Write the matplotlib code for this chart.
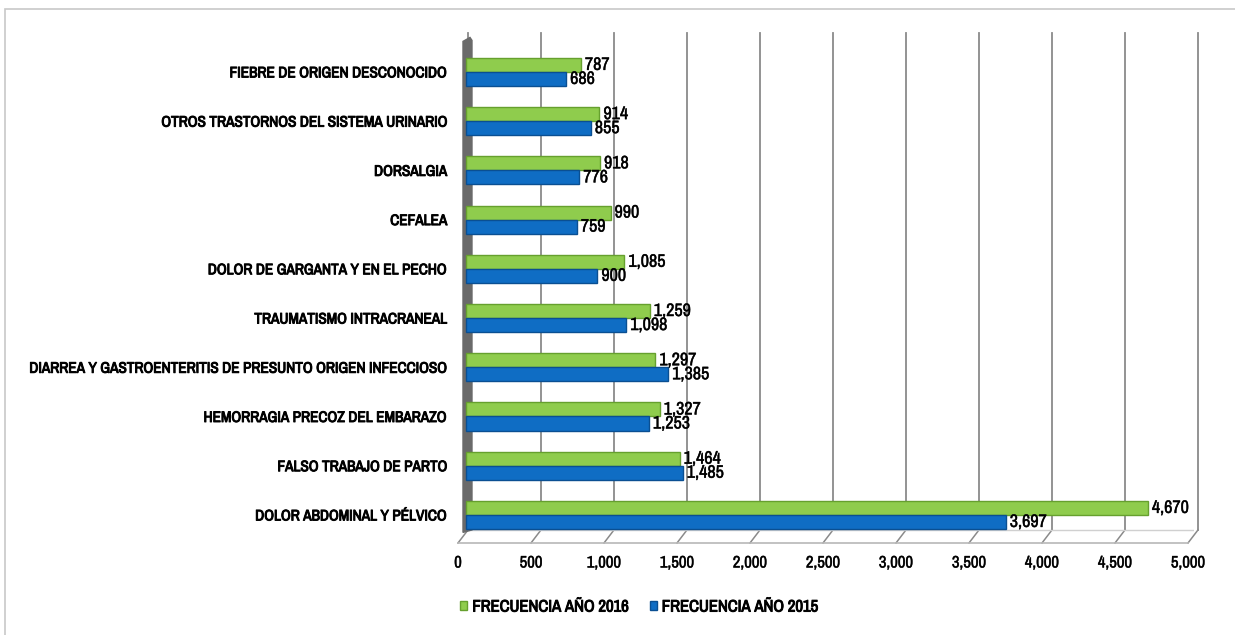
import numpy as np
import matplotlib
matplotlib.use('Agg')
import matplotlib.pyplot as plt
import matplotlib.patheffects as pe
from matplotlib import font_manager
from matplotlib.patches import Rectangle, Polygon
from matplotlib.transforms import ScaledTranslation
from matplotlib.ticker import FuncFormatter

#-------------- DATA (bottom to top)

categories = ["DOLOR ABDOMINAL Y PÉLVICO",
              "FALSO TRABAJO DE PARTO",
              "HEMORRAGIA PRECOZ DEL EMBARAZO",
              "DIARREA Y GASTROENTERITIS DE PRESUNTO ORIGEN INFECCIOSO",
              "TRAUMATISMO INTRACRANEAL",
              "DOLOR DE GARGANTA Y EN EL PECHO",
              "CEFALEA",
              "DORSALGIA",
              "OTROS TRASTORNOS DEL SISTEMA URINARIO",
              "FIEBRE DE ORIGEN DESCONOCIDO"]
freq_2016 = [4670, 1464, 1327, 1297, 1259, 1085, 990, 918, 914, 787]
freq_2015 = [3697, 1485, 1253, 1385, 1098, 900, 759, 776, 855, 686]
series_names = ["FRECUENCIA AÑO 2016", "FRECUENCIA AÑO 2015"]
xticks = np.arange(0, 5001, 500)

#-------------- FONT: look for a narrow face, else fall back

names = {f.name for f in font_manager.fontManager.ttflist}
narrow = [n for n in names if 'Narrow' in n or 'Condensed' in n]
if 'Liberation Sans Narrow' in names:
    main = 'Liberation Sans Narrow'
elif narrow:
    main = sorted(narrow)[0]
else:
    main = 'Liberation Sans'
fam = [main, 'DejaVu Sans']
plt.rcParams['font.family'] = fam
condensed = main != 'Liberation Sans'
lab_size = 11 if condensed else 8.4
val_size = 13 if condensed else 10
tick_size = 12 if condensed else 9.5
leg_size = 12 if condensed else 9
bold = [pe.withStroke(linewidth=0.7, foreground='black')]
semibold = [pe.withStroke(linewidth=0.35, foreground='#222222')]

green, green_edge = '#8FCC4D', '#66A02E'
blue, blue_edge = '#0F6DC4', '#0A4F92'
grid_c = '#8A8A8A'

#-------------- FIGURE

fig = plt.figure(figsize=(12.35, 6.35), dpi=100)
fig.patches.append(Rectangle((0.004, -0.02), 1.0, 1.006, transform=fig.transFigure,
                             fill=False, edgecolor='#C8C8C8', linewidth=1.2))
ax = fig.add_axes([0.3757, 0.1449, 0.5911, 0.8031])
ax.set_xlim(0, 5000)
ax.set_ylim(-0.57, 9.79)

k = 5000 / 730.0          # data units per pixel along x
y_bend = -0.305           # where the back wall meets the floor
y_bot = -0.57
back, front = 4 * k, -6 * k

# 3D-looking grid: vertical on the back wall, slanting over the floor
for v in xticks:
    ax.plot([v + back, v + back], [9.79, y_bend], color=grid_c, lw=1.3, zorder=1, clip_on=False)
    ax.plot([v + back, v + front], [y_bend, y_bot], color=grid_c, lw=1.1, zorder=1, clip_on=False)
ax.plot([back, 5000 + back], [y_bend, y_bend], color='#D0D0D0', lw=1.0, zorder=1)
ax.plot([front, 5000 + front], [y_bot, y_bot], color='#B8B8B8', lw=1.2, zorder=1, clip_on=False)

# gray side wall
ax.add_patch(Polygon([(-1 * k, y_bend - 0.05), (-1 * k, 9.62), (6 * k, 9.70), (8 * k, 9.64),
                      (8 * k, y_bend)], closed=True, color='#6A6A6A', zorder=2, clip_on=False))

y = np.arange(len(categories))
h = 0.285
ax.barh(y + h / 2, freq_2016, height=h, left=2 * k, color=green, edgecolor=green_edge,
        linewidth=1.0, label=series_names[0], zorder=3)
ax.barh(y - h / 2, freq_2015, height=h, left=2 * k, color=blue, edgecolor=blue_edge,
        linewidth=1.0, label=series_names[1], zorder=3)

for yi, v16, v15 in zip(y, freq_2016, freq_2015):
    ax.text(v16 + 6 * k, yi + h / 2, f"{v16:,}", fontsize=val_size, va='center', ha='left',
            zorder=5, path_effects=semibold)
    ax.text(v15 + 6 * k, yi - h / 2, f"{v15:,}", fontsize=val_size, va='center', ha='left',
            zorder=5, path_effects=semibold)

ax.set_xticks(xticks)
ax.xaxis.set_major_formatter(FuncFormatter(lambda v, p: f"{int(v):,}"))
ax.set_yticks(y)
ax.set_yticklabels(categories, fontsize=lab_size)
for lab in ax.get_yticklabels():
    lab.set_path_effects(bold)
ax.tick_params(axis='y', length=0, pad=12)
ax.tick_params(axis='x', length=0, pad=9, labelsize=tick_size)
shift = ScaledTranslation(-0.06, 0, fig.dpi_scale_trans)
for lab in ax.get_xticklabels():
    lab.set_transform(lab.get_transform() + shift)
    lab.set_path_effects(semibold)
for s in ax.spines.values():
    s.set_visible(False)

leg = fig.legend(loc='center left', bbox_to_anchor=(0.366, 0.044), ncol=2, frameon=False,
                 handlelength=0.42, handleheight=0.42, handletextpad=0.3, columnspacing=1.3,
                 borderpad=0, prop={'family': fam, 'size': leg_size})
for t in leg.get_texts():
    t.set_path_effects(bold)

plt.savefig("out.png", dpi=100)
